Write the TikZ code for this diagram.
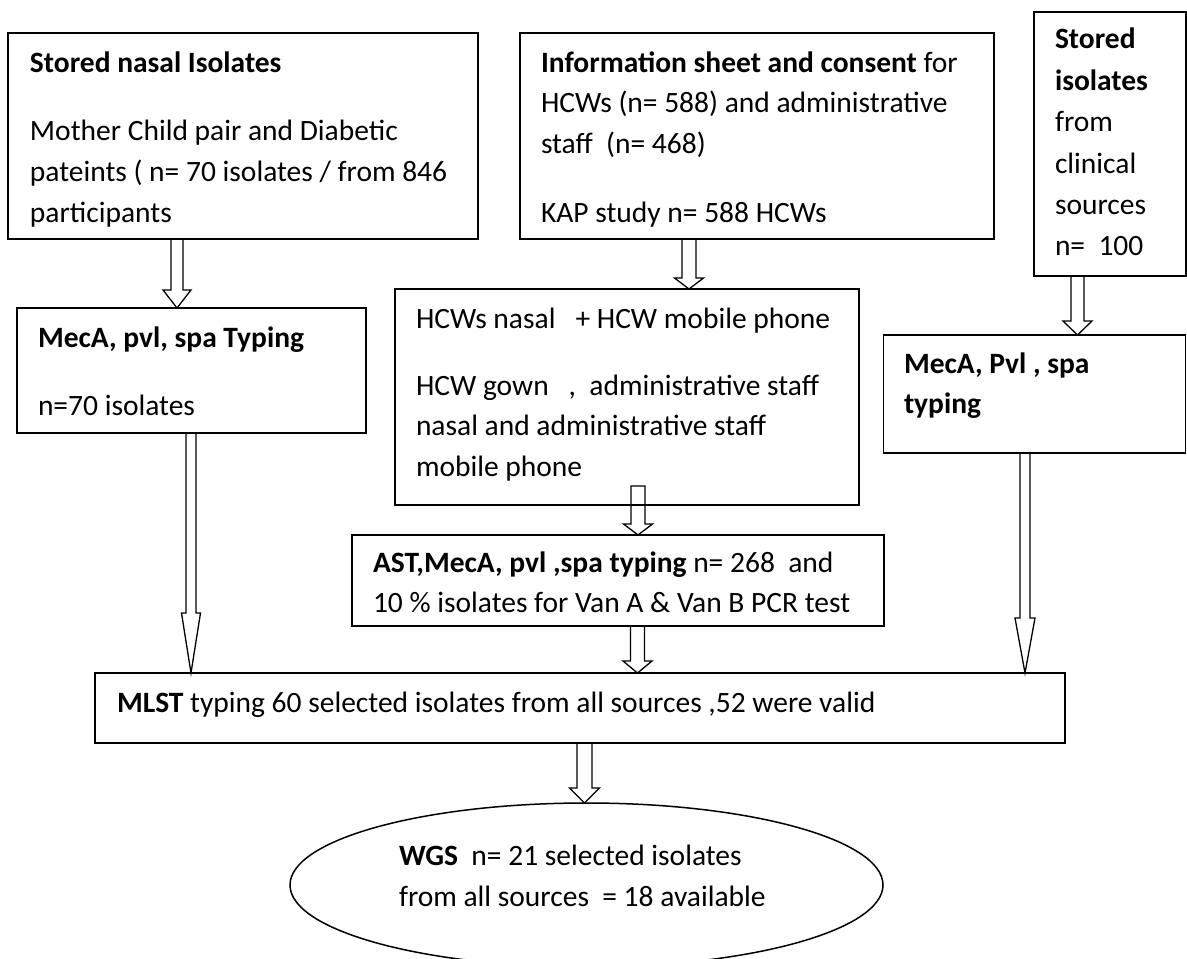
\documentclass[tikz,border=0pt]{standalone}
\usepackage{fontspec}
\setmainfont{Carlito}
\usetikzlibrary{calc,shapes.geometric}
\pgfdeclarelayer{bg}
\pgfsetlayers{bg,main}
\tikzset{
  box/.style={draw=black, line width=1.8pt, rectangle, inner sep=0pt, outer sep=0pt},
  oval/.style={draw=black, line width=1.5pt, ellipse, inner sep=0pt, outer sep=0pt},
  txt/.style={inner sep=0pt, outer sep=0pt, anchor=base west, font=\fontsize{29.5}{35}\selectfont},
  blockarrowstyle/.style={draw=black, line width=1.3pt, fill=white, line join=miter},
}
% #1 source, #2 target, #3 x centre, #4 start offset upward, #5 shaft half width, #6 head half width, #7 head length
\newcommand\blockarrow[7]{%
  \path[blockarrowstyle] let \p1=(#1.south), \p2=(#2.north) in
    ({#3pt-#5pt},{\y1+#4pt}) -- ({#3pt-#5pt},{\y2+#7pt}) -- ({#3pt-#6pt},{\y2+#7pt})
    -- (#3pt,\y2) -- ({#3pt+#6pt},{\y2+#7pt}) -- ({#3pt+#5pt},{\y2+#7pt})
    -- ({#3pt+#5pt},{\y1+#4pt}) -- cycle;}
\begin{document}
\begin{tikzpicture}[x=1pt,y=-1pt]
\useasboundingbox (0,0) rectangle (1187,959);
\begin{pgfonlayer}{bg}
\fill[white] (0,0) rectangle (1187,959);
\end{pgfonlayer}

% boxes
\node[box, minimum width=470pt, minimum height=206pt] (A) at (243,136) {};
\node[box, minimum width=474pt, minimum height=206pt] (B) at (757,136) {};
\node[box, minimum width=152pt, minimum height=264pt] (C) at (1110,144) {};
\node[box, minimum width=349pt, minimum height=125pt] (D) at (191.5,370.5) {};
\node[box, minimum width=464pt, minimum height=216pt] (E) at (627,397) {};
\node[box, minimum width=302pt, minimum height=118pt] (F) at (1034.5,394) {};
\node[box, minimum width=532pt, minimum height=91pt] (G) at (618,580.5) {};
\node[box, minimum width=970pt, minimum height=70pt] (H) at (580,708) {};
\node[oval, minimum width=593pt, minimum height=164pt] (I) at (586.5,885) {};

% texts
\node[txt] (a1) at (30,72) {\textbf{Stored nasal Isolates}};
\node[txt] (a2) at (30,140) {Mother Child pair and Diabetic};
\node[txt] (a3) at (30,181) {pateints ( n= 70 isolates / from 846};
\node[txt] (a4) at (30,222) {participants};

\node[txt] (b1) at (541,72) {\textbf{Information sheet and consent} for};
\node[txt] (b2) at (541,112) {HCWs (n= 588) and administrative};
\node[txt] (b3) at (541,153) {staff~~(n= 468)};
\node[txt] (b4) at (541,222) {KAP study n= 588 HCWs};

\node[txt] (c1) at (1055,48) {\textbf{Stored}};
\node[txt] (c2) at (1055,90) {\textbf{isolates}};
\node[txt] (c3) at (1055,131) {from};
\node[txt] (c4) at (1055,173) {clinical};
\node[txt] (c5) at (1055,214) {sources};
\node[txt] (c6) at (1055,255) {n=~~100};

\node[txt] (d1) at (38,347) {\textbf{MecA, pvl, spa Typing}};
\node[txt] (d2) at (38,415) {n=70 isolates};

\node[txt] (e1) at (416,328) {HCWs nasal~~~+ HCW mobile phone};
\node[txt] (e2) at (416,395) {HCW gown~~~,~~administrative staff};
\node[txt] (e3) at (416,435) {nasal and administrative staff};
\node[txt] (e4) at (416,476) {mobile phone};

\node[txt] (f1) at (904,373) {\textbf{MecA, Pvl , spa}};
\node[txt] (f2) at (904,413) {\textbf{typing}};

\node[txt] (g1) at (373,572) {\textbf{AST,MecA, pvl ,spa typing} n= 268~~and};
\node[txt] (g2) at (373,612) {10 \% isolates for Van A \& Van B PCR test};

\node[txt] (h1) at (117,712) {\textbf{MLST} typing 60 selected isolates from all sources ,52 were valid};

\node[txt] (i1) at (399,865) {\textbf{WGS}~~n= 21 selected isolates};
\node[txt] (i2) at (399,906) {from all sources~~= 18 available};

% block arrows
\begin{pgfonlayer}{bg}
\blockarrow{A}{D}{177}{0}{6}{14}{18}
\blockarrow{B}{E}{689}{0}{7}{14.5}{11}
\blockarrow{C}{F}{1077.5}{0}{6.5}{14.5}{14}
\blockarrow{D}{H}{191}{0}{5}{9.5}{60}
\blockarrow{E}{G}{638}{19}{7}{14.5}{11}
\blockarrow{F}{H}{1025}{0}{5}{10}{55}
\blockarrow{G}{H}{637.5}{0}{7}{14.5}{12}
\blockarrow{H}{I}{584.5}{0}{7.5}{15}{15}
\end{pgfonlayer}
\end{tikzpicture}
\end{document}
